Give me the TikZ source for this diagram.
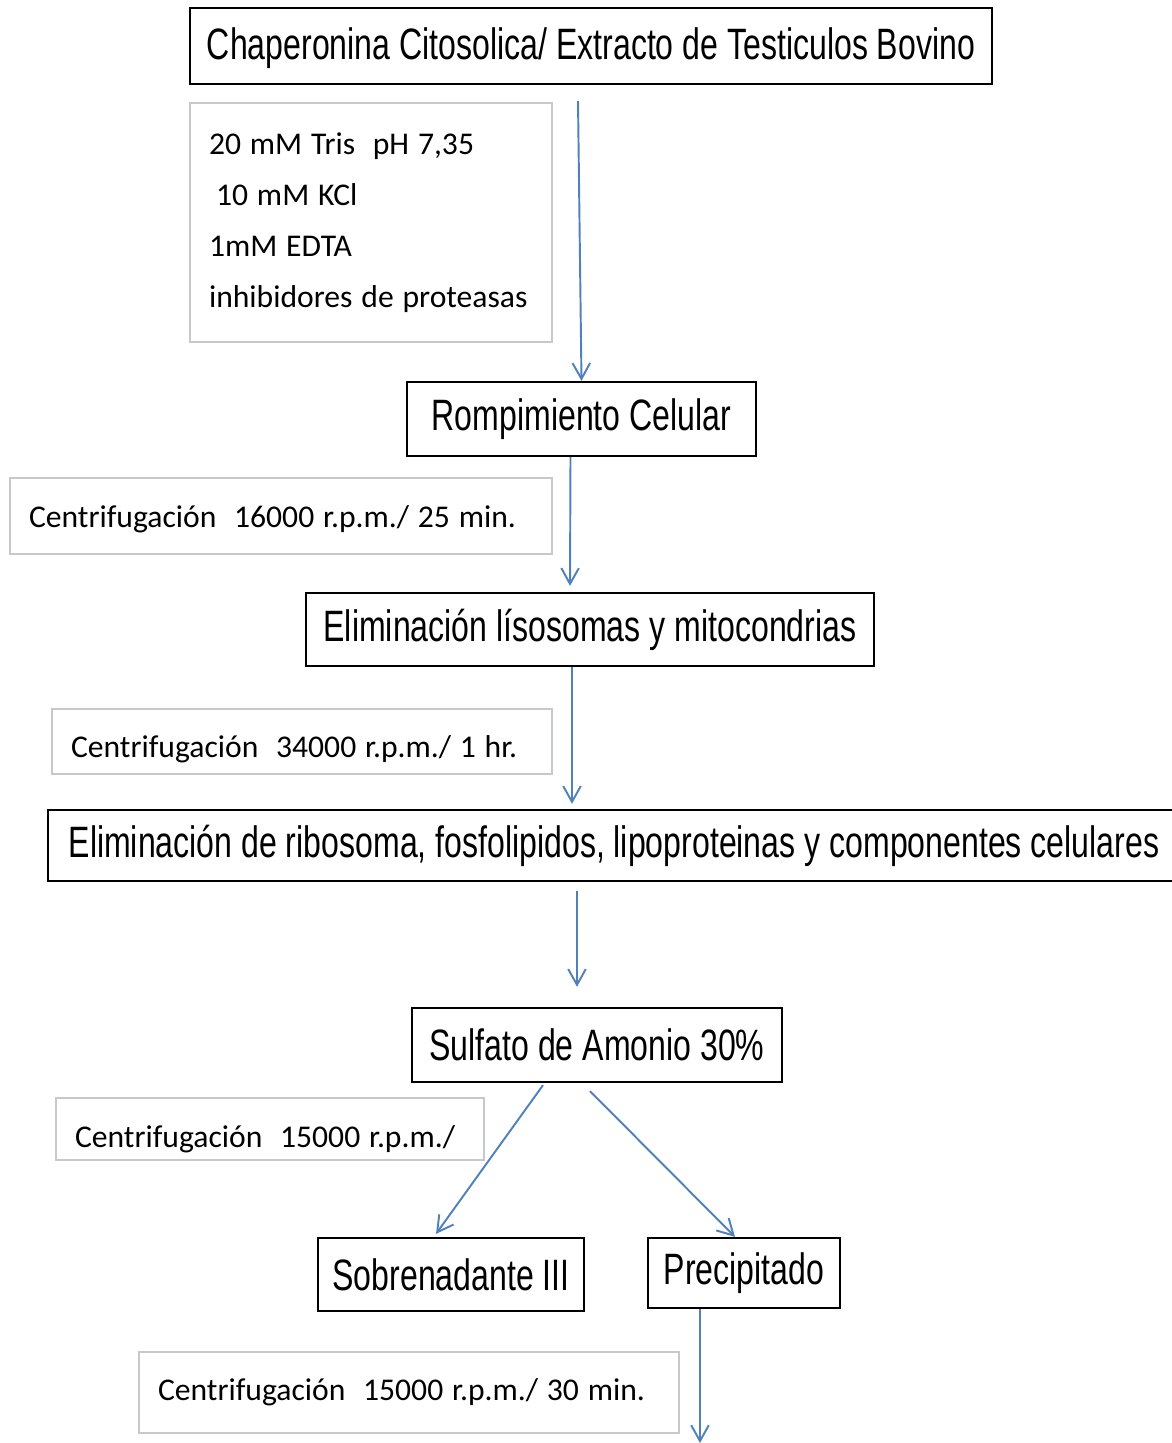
\documentclass[tikz,border=0pt]{standalone}
\usepackage{fontspec}
\setmainfont{Carlito}
\newfontfamily\boxfont[FakeStretch=0.73]{Liberation Sans}
\usepackage{xcolor}
\usepackage{tikz}
\usetikzlibrary{arrows.meta, calc}
\definecolor{flowblue}{RGB}{79,129,189}
\definecolor{notegray}{RGB}{200,200,200}

\begin{document}
\begin{tikzpicture}[x=0.02cm, y=-0.02cm,
  stepbox/.style={rectangle, draw, line width=1.3pt, inner sep=0pt, align=center, font=\boxfont\fontsize{25}{30}\selectfont},
  note/.style={rectangle, draw=notegray, line width=0.8pt, inner xsep=0.38cm, inner ysep=0pt, align=left, font=\fontsize{18}{29}\selectfont, execute at begin node={\spaceskip=0.28em\relax}},
  flow/.style={-{Straight Barb[length=9pt, width=10pt]}, line width=1.1pt, flowblue}
]
\useasboundingbox (0,0) rectangle (1172,1443);
\clip (0,0) rectangle (1172,1443);
\node[stepbox, minimum width=16.04cm, minimum height=1.52cm] (top) at (591,46) {\raisebox{-1pt}[\height][\depth]{Chaperonina Citosolica/ Extracto de Testiculos Bovino}};
\node[note, minimum width=7.24cm, minimum height=4.78cm, text width=6.48cm] (buffer) at (371,222.5) {20 mM Tris~ pH 7,35\\\hspace*{4pt}10 mM KCl\\1mM EDTA\\inhibidores de proteasas};
\node[stepbox, minimum width=6.98cm, minimum height=1.48cm] (romp) at (581.5,419) {Rompimiento Celular};
\node[note, minimum width=10.84cm, minimum height=1.52cm, text width=10.08cm] (cent1) at (281,516) {\raisebox{-1.7pt}[\height][\depth]{Centrifugación~ 16000 r.p.m./ 25 min.}};
\node[stepbox, minimum width=11.36cm, minimum height=1.46cm] (elimA) at (590,629.5) {Eliminación lísosomas y mitocondrias};
\node[note, minimum width=10cm, minimum height=1.3cm, text width=9.24cm] (cent2) at (302,741.5) {\raisebox{-4.5pt}[\height][\depth]{Centrifugación~ 34000 r.p.m./ 1 hr.}};
\node[stepbox, minimum width=22.64cm, minimum height=1.42cm] (ribo) at (614,845.5) {Eliminación de ribosoma, fosfolipidos, lipoproteinas y componentes celulares};
\node[stepbox, minimum width=7.4cm, minimum height=1.48cm] (sulf) at (597,1045) {Sulfato de Amonio 30\%};
\node[note, minimum width=8.56cm, minimum height=1.24cm, text width=7.8cm] (cent3) at (270,1129) {\raisebox{-5.7pt}[\height][\depth]{Centrifugación~ 15000 r.p.m./}};
\node[stepbox, minimum width=5.32cm, minimum height=1.46cm] (sobre) at (451,1274.5) {Sobrenadante III};
\node[stepbox, minimum width=3.84cm, minimum height=1.4cm] (precip) at (744,1273) {Precipitado};
\node[note, minimum width=10.76cm, minimum height=1.62cm, text width=10.04cm] (cent4) at (409,1392.5) {Centrifugación~ 15000 r.p.m./ 30 min.};
\coordinate (out) at (700,1443);
\draw[flow] ($(top.south)+(-13,16)$) -- (romp.north);
\draw[flow] ($(romp.south)+(-11,0)$) -- ($(elimA.north)+(-20,-6)$);
\draw[flow] ($(elimA.south)+(-18,0)$) -- ($(ribo.north)+(-42,-5)$);
\draw[flow] ($(ribo.south)+(-37,9)$) -- ($(sulf.north)+(-20,-20)$);
\draw[flow] ($(sulf.south)+(-54,2)$) -- ($(sobre.north)+(-15,-3)$);
\draw[flow] ($(sulf.south)+(-7,8)$) -- ($(precip.north)+(-9,0)$);
\draw[flow] ($(precip.south)+(-44,0)$) -- (out);
\end{tikzpicture}
\end{document}
